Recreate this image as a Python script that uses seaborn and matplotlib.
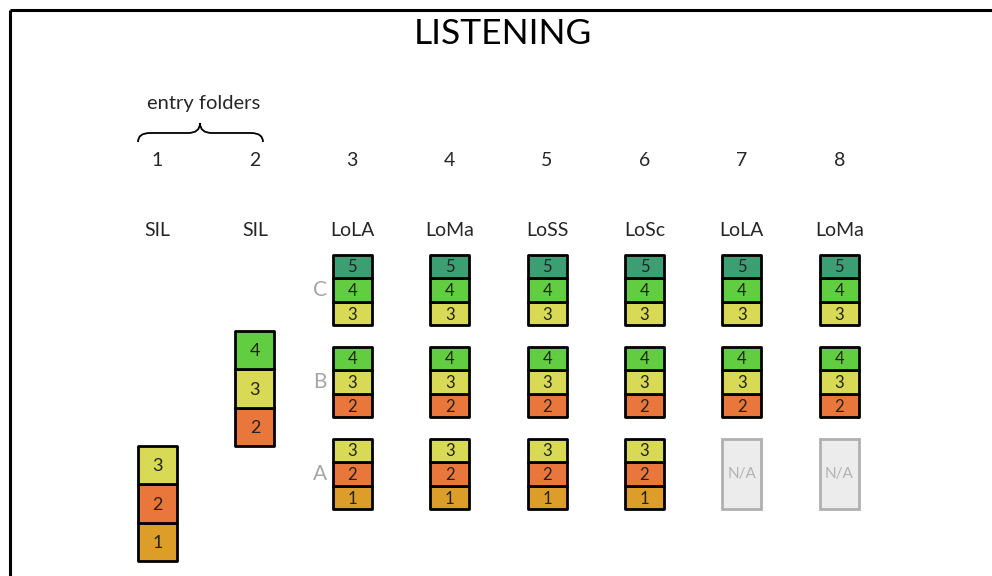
import matplotlib.pyplot as plt
import matplotlib.patches as mpatches
from matplotlib.path import Path
import seaborn as sns

# folder numbers and their section labels
folders = [1, 2, 3, 4, 5, 6, 7, 8]
folder_labels = ["SIL", "SIL", "LoLA", "LoMa", "LoSS", "LoSc", "LoLA", "LoMa"]

# entry folders: levels stacked in one column
entry_levels = {1: [1, 2, 3], 2: [2, 3, 4]}

# grouped folders: group -> levels
groups = ["C", "B", "A"]
group_levels = {"C": [3, 4, 5], "B": [2, 3, 4], "A": [1, 2, 3]}
# folders where a group is not available
not_available = {(7, "A"), (8, "A")}

level_colors = {1: "#dc9e28", 2: "#e9763b", 3: "#d8da55", 4: "#63cd42", 5: "#3d9e74"}

# layout (pixel space)
W, H = 992, 576
x_first, x_step = 157.5, 97.4
box_w = 39
entry_cell_h = 38.3
entry_bottom = {1: 561, 2: 446}
group_cell_h = 23.5
group_center = {"C": 290, "B": 382, "A": 474}

sns.set_theme(style="white")
plt.rcParams["font.family"] = ["Lato", "DejaVu Sans"]

fig = plt.figure(figsize=(W / 100, H / 100), dpi=100)
ax = fig.add_axes([0, 0, 1, 1])
ax.set_xlim(0, W)
ax.set_ylim(H, 0)
ax.axis("off")


def col_x(f):
    return x_first + (f - 1) * x_step


def cell(ax, xc, top, h, level):
    ax.add_patch(mpatches.Rectangle((xc - box_w / 2, top), box_w, h,
                                    facecolor=level_colors[level], edgecolor="black",
                                    linewidth=2.0, joinstyle="round"))
    ax.text(xc, top + h / 2 + 1, str(level), ha="center", va="center",
            fontsize=12 if h < 30 else 13, color="#222222")


# frame
ax.plot([10, 10], [H, 10], color="black", lw=2.2, solid_capstyle="butt")
ax.plot([10, W], [10, 10], color="black", lw=2.2, solid_capstyle="butt")

ax.text(503, 34, "LISTENING", ha="center", va="center", fontsize=25.5, color="black")

# brace over entry folders
verts = [(138, 142), (138, 133), (150, 133), (188, 133), (200, 133), (200, 123),
         (200, 133), (212, 133), (251, 133), (263, 133), (263, 142)]
codes = [Path.MOVETO, Path.CURVE3, Path.CURVE3, Path.LINETO, Path.CURVE3, Path.CURVE3,
         Path.CURVE3, Path.CURVE3, Path.LINETO, Path.CURVE3, Path.CURVE3]
ax.add_patch(mpatches.PathPatch(Path(verts, codes), facecolor="none", edgecolor="black", lw=1.3))
ax.text(204, 103, "entry folders", ha="center", va="center", fontsize=14.5)

for f, lab in zip(folders, folder_labels):
    ax.text(col_x(f), 160, str(f), ha="center", va="center", fontsize=14)
    ax.text(col_x(f), 230, lab, ha="center", va="center", fontsize=14)

# entry folder stacks
for f, levels in entry_levels.items():
    for lv in levels:
        top = entry_bottom[f] - (lv - levels[0] + 1) * entry_cell_h
        cell(ax, col_x(f), top, entry_cell_h, lv)

# group letters
for g in groups:
    ax.text(320, group_center[g], g, ha="center", va="center", fontsize=15, color="#a6a6a6")

# grouped stacks
for f in folders[2:]:
    for g in groups:
        levels = group_levels[g]
        mid = levels[1]
        if (f, g) in not_available:
            top = group_center[g] - 1.5 * group_cell_h
            ax.add_patch(mpatches.Rectangle((col_x(f) - box_w / 2, top), box_w, 3 * group_cell_h,
                                            facecolor="#ececec", edgecolor="#b0b0b0", linewidth=2.0))
            ax.text(col_x(f), group_center[g], "N/A", ha="center", va="center",
                    fontsize=11, color="#b3b3b3")
            continue
        for lv in levels:
            top = group_center[g] - (lv - mid) * group_cell_h - group_cell_h / 2
            cell(ax, col_x(f), top, group_cell_h, lv)

fig.savefig("out.png", dpi=100)
